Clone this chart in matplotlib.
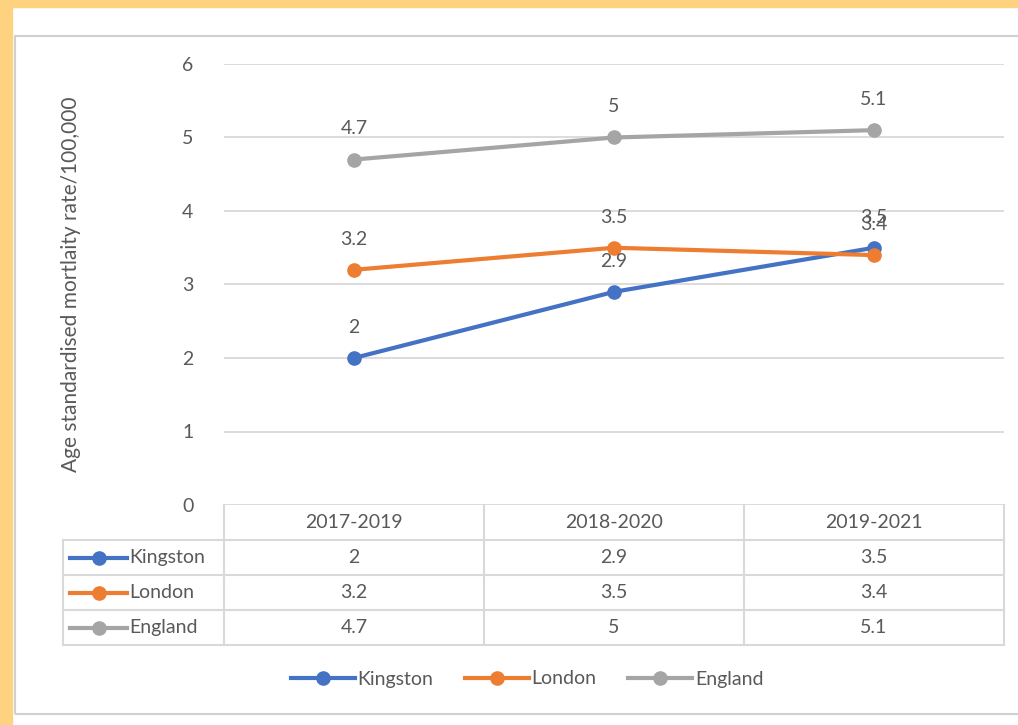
import matplotlib.pyplot as plt
from matplotlib.lines import Line2D
from matplotlib.patches import Rectangle

periods = ["2017-2019", "2018-2020", "2019-2021"]
kingston = [2, 2.9, 3.5]
london = [3.2, 3.5, 3.4]
england = [4.7, 5, 5.1]
series = ["Kingston", "London", "England"]
colors = ["#4472C4", "#ED7D31", "#A5A5A5"]

plt.rcParams['font.family'] = ['Lato', 'DejaVu Sans']
txt = "#595959"
grid = "#D9D9D9"
fs = 14
W, H = 1018, 725

fig = plt.figure(figsize=(W / 100, H / 100), dpi=100)
fig.patch.set_facecolor("white")

# orange frame at top and left
fig.patches.append(Rectangle((0, 1 - 7 / H), 1, 7 / H, transform=fig.transFigure, color="#FFD27F", zorder=0))
fig.patches.append(Rectangle((0, 0), 12 / W, 1, transform=fig.transFigure, color="#FFD27F", zorder=0))
# chart border
fig.patches.append(Rectangle((15 / W, 1 - 714 / H), 1, (714 - 36) / H, transform=fig.transFigure,
                             fill=False, ec="#D0D0D0", lw=1.5, zorder=0))

x0, x1, ytop, ybot = 224, 1004, 64, 505
ax = fig.add_axes([x0 / W, 1 - ybot / H, (x1 - x0) / W, (ybot - ytop) / H])
ax.set_xlim(0, 3)
ax.set_ylim(0, 6)
for s in ax.spines.values():
    s.set_visible(False)
ax.set_yticks(range(7))
ax.yaxis.grid(True, color=grid, lw=1.3)
ax.set_axisbelow(True)
ax.tick_params(axis="y", length=0, pad=22, labelsize=fs, labelcolor=txt)
ax.set_xticks([])
ax.set_ylabel("Age standardised mortlaity rate/100,000", fontsize=15, color=txt)
ax.yaxis.set_label_coords(-143 / (x1 - x0), 0.5)

xs = [0.5, 1.5, 2.5]
data = [kingston, london, england]
for vals, c in zip(data, colors):
    ax.plot(xs, vals, color=c, lw=3, marker="o", ms=9.5, solid_capstyle="round", clip_on=False)
    for xv, yv in zip(xs, vals):
        ax.annotate(f"{yv:g}", (xv, yv), xytext=(0, 16), textcoords="offset points",
                    ha="center", va="bottom", fontsize=fs, color=txt)

# data table below the plot
rh = 35 / (ybot - ytop)
lab_left = (63 - x0) / (x1 - x0)
tr = ax.transAxes
lk = dict(color=grid, lw=1.5, transform=tr, clip_on=False)
ax.plot([0, 1], [-rh, -rh], **lk)
for i in range(4):
    ax.plot([i / 3, i / 3], [0, -4 * rh], **lk)
for j in range(2, 5):
    ax.plot([lab_left, 1], [-j * rh, -j * rh], **lk)
ax.plot([lab_left, 0], [-rh, -rh], **lk)
ax.plot([lab_left, lab_left], [-rh, -4 * rh], **lk)
for i, p in enumerate(periods):
    ax.text((i + 0.5) / 3, -0.5 * rh, p, transform=tr, ha="center", va="center", fontsize=fs, color=txt)
for j, (name, vals, c) in enumerate(zip(series, data, colors)):
    yc = -(j + 1.5) * rh
    for i, v in enumerate(vals):
        ax.text((i + 0.5) / 3, yc, f"{v:g}", transform=tr, ha="center", va="center", fontsize=fs, color=txt)
    kx0 = (70 - x0) / (x1 - x0)
    kx1 = (127 - x0) / (x1 - x0)
    ax.add_line(Line2D([kx0, kx1], [yc, yc], color=c, lw=3, transform=tr, clip_on=False))
    ax.add_line(Line2D([(kx0 + kx1) / 2], [yc], color=c, marker="o", ms=9.5, transform=tr, clip_on=False))
    ax.text((129 - x0) / (x1 - x0), yc, name, transform=tr, ha="left", va="center", fontsize=fs, color=txt)

handles = [Line2D([], [], color=c, lw=3, marker="o", ms=9.5) for c in colors]
leg = fig.legend(handles, series, loc="center", bbox_to_anchor=(527 / W, 1 - 679 / H), ncol=3,
                 frameon=False, fontsize=fs, handlelength=3.3, columnspacing=1.6, handletextpad=0.15)
for t in leg.get_texts():
    t.set_color(txt)

fig.savefig("out.png", dpi=100)
